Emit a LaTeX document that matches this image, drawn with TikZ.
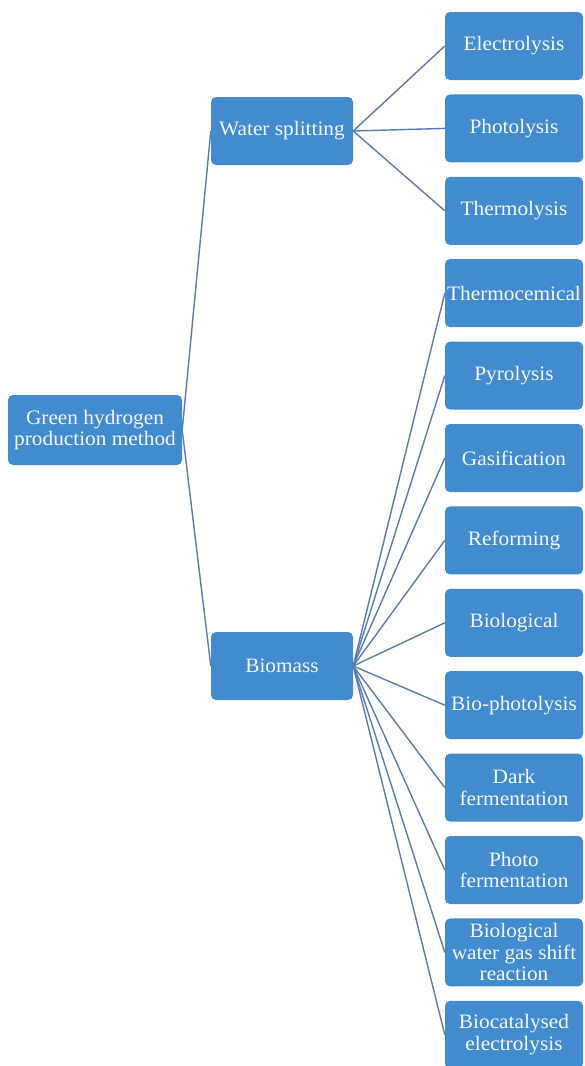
\documentclass[tikz,border=0pt]{standalone}
\usepackage{fontspec}
\setmainfont{Liberation Serif}[FakeStretch=1.04]
\usepackage{xcolor}
\usepackage{tikz}
\usetikzlibrary{positioning}
\definecolor{boxblue}{RGB}{66,139,206}
\definecolor{linkblue}{RGB}{88,124,176}

\begin{document}
\begin{tikzpicture}[
    x=1pt, y=1pt,
    node distance=14pt and 0pt,
    font=\fontsize{20.5}{21.5}\selectfont,
    box/.style={rectangle, rounded corners=5pt, fill=boxblue, text=white!94!boxblue, align=center, inner sep=0pt, minimum height=68pt},
    leaf/.style={box, minimum width=138pt},
    mid/.style={box, minimum width=142pt},
    link/.style={draw=linkblue, line width=1.4pt}
]
    \useasboundingbox (0,0) rectangle (584,-1066);

    % --- 1. Root and Branch Nodes ---
    \node[box, minimum width=174pt, minimum height=70pt] (root) at (95,-430) {Green hydrogen\\production method};
    \node[mid] (water) at (282,-131) {Water splitting};
    \node[mid] (bio) at (282,-666) {Biomass};

    % --- 2. Leaf Nodes (Right Column) ---
    \node[leaf] (elec) at (514,-46) {Electrolysis};
    \node[leaf, below=of elec] (photo) {Photolysis};
    \node[leaf, below=of photo] (thermo) {Thermolysis};
    \node[leaf, below=of thermo] (tchem) {Thermocemical};
    \node[leaf, below=of tchem] (pyro) {Pyrolysis};
    \node[leaf, below=of pyro] (gasif) {Gasification};
    \node[leaf, below=of gasif] (reform) {Reforming};
    \node[leaf, below=of reform] (biol) {Biological};
    \node[leaf, below=of biol] (biophoto) {Bio-photolysis};
    \node[leaf, below=of biophoto] (dark) {Dark\\fermentation};
    \node[leaf, below=of dark] (photoferm) {Photo\\fermentation};
    \node[leaf, below=of photoferm] (wgs) {Biological\\water gas shift\\reaction};
    \node[leaf, below=of wgs] (biocat) {Biocatalysed\\electrolysis};

    % --- 3. Connections ---
    \draw[link] (root.east) -- (water.west);
    \draw[link] (root.east) -- (bio.west);

    \foreach \n in {elec,photo,thermo}
        \draw[link] (water.east) -- (\n.west);

    \foreach \n in {tchem,pyro,gasif,reform,biol,biophoto,dark,photoferm,wgs,biocat}
        \draw[link] (bio.east) -- (\n.west);

\end{tikzpicture}
\end{document}
